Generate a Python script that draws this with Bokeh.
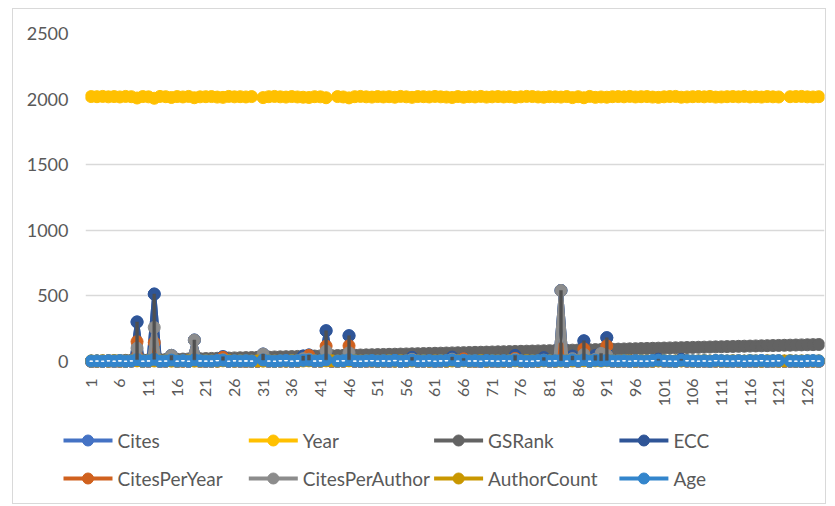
import numpy as np
from bokeh.plotting import figure
from bokeh.layouts import column, row
from bokeh.models import Range1d, FixedTicker, ColumnDataSource
from bokeh.core.properties import value
from bokeh.embed import file_html
from bokeh.resources import INLINE

# ---------------- data ----------------
CATEGORIES = list(range(1, 129))
X_TICKS = [1, 6, 11, 16, 21, 26, 31, 36, 41, 46, 51, 56, 61, 66, 71, 76, 81, 86,
           91, 96, 101, 106, 111, 116, 121, 126]
Y_TICKS = [0, 500, 1000, 1500, 2000, 2500]

SERIES_NAMES = ["Cites", "Year", "GSRank", "ECC",
                "CitesPerYear", "CitesPerAuthor", "AuthorCount", "Age"]
SERIES_COLORS = ["#4472C4", "#FFC000", "#636363", "#2F5597",
                 "#D0611E", "#8C8C8C", "#C99700", "#3385CC"]

CITES = [
    0, 1, 0, 2, 0, 1, 0, 2, 300, 0,
    1, 513, 0, 1, 45, 0, 2, 0, 162, 1,
    0, 1, 3, 35, 0, 2, 1, 0, 1, 0,
    55, 1, 0, 2, 3, 0, 1, 40, 48, 1,
    2, 233, 0, 1, 2, 195, 0, 0, 1, 2,
    0, 1, 0, 3, 0, 1, 30, 0, 1, 2,
    0, 1, 2, 32, 0, 22, 1, 0, 0, 2,
    1, 0, 2, 1, 45, 1, 0, 0, 2, 28,
    1, 2, 540, 0, 40, 1, 156, 0, 45, 60,
    180, 1, 0, 2, 0, 1, 0, 1, 2, 16,
    1, 0, 0, 15, 2, 1, 0, 1, 0, 2,
    1, 0, 1, 2, 0, 1, 0, 2, 0, 1,
    2, 0, 1, 0, 0, 1, 2, 0]

YEAR = [
    2019, 2018, 2020, 2017, 2019, 2016, 2020, 2018, 2008, 2019,
    2017, 2006, 2020, 2018, 2012, 2019, 2016, 2020, 2010, 2017,
    2018, 2019, 2015, 2013, 2020, 2017, 2018, 2016, 2019, None,
    2011, 2018, 2020, 2017, 2015, 2019, 2016, 2014, 2012, 2018,
    2017, 2010, None, 2019, 2016, 2009, 2018, 2020, 2017, 2015,
    2019, 2016, 2018, 2014, 2020, 2017, 2013, 2019, 2018, 2016,
    2020, 2017, 2015, 2012, 2019, 2014, 2018, 2016, 2020, 2015,
    2017, 2019, 2016, 2018, 2013, 2017, 2020, 2019, 2016, 2014,
    2018, 2017, 2015, 2019, 2011, 2018, 2010, 2020, 2013, 2016,
    2014, 2018, 2019, 2017, 2020, 2016, 2018, 2019, 2015, 2013,
    2017, 2019, 2020, 2014, 2016, 2018, 2019, 2017, 2020, 2015,
    2016, 2018, 2019, 2017, 2020, 2016, 2018, 2015, 2019, 2017,
    2016, None, 2018, 2019, 2020, 2017, 2016, 2018]

GSRANK = [
    1, 2, 3, 4, 5, 6, 7, 8, 9, 10,
    11, 12, 13, 14, 15, 16, 17, 18, 19, 20,
    21, 22, 23, 24, 25, 26, 27, 28, 29, 30,
    31, 32, 33, 34, 35, 36, 37, 38, 39, 40,
    41, 42, 43, 44, 45, 46, 47, 48, 49, 50,
    51, 52, 53, 54, 55, 56, 57, 58, 59, 60,
    61, 62, 63, 64, 65, 66, 67, 68, 69, 70,
    71, 72, 73, 74, 75, 76, 77, 78, 79, 80,
    81, 82, 83, 84, 85, 86, 87, 88, 89, 90,
    91, 92, 93, 94, 95, 96, 97, 98, 99, 100,
    101, 102, 103, 104, 105, 106, 107, 108, 109, 110,
    111, 112, 113, 114, 115, 116, 117, 118, 119, 120,
    121, 122, 123, 124, 125, 126, 127, 128]

ECC = [
    0, 1, 0, 2, 0, 1, 0, 2, 300, 0,
    1, 513, 0, 1, 45, 0, 2, 0, 162, 1,
    0, 1, 3, 35, 0, 2, 1, 0, 1, 0,
    55, 1, 0, 2, 3, 0, 1, 40, 48, 1,
    2, 233, 0, 1, 2, 195, 0, 0, 1, 2,
    0, 1, 0, 3, 0, 1, 30, 0, 1, 2,
    0, 1, 2, 32, 0, 22, 1, 0, 0, 2,
    1, 0, 2, 1, 45, 1, 0, 0, 2, 28,
    1, 2, 540, 0, 40, 1, 156, 0, 45, 60,
    180, 1, 0, 2, 0, 1, 0, 1, 2, 16,
    1, 0, 0, 15, 2, 1, 0, 1, 0, 2,
    1, 0, 1, 2, 0, 1, 0, 2, 0, 1,
    2, 0, 1, 0, 0, 1, 2, 0]

CITES_PER_YEAR = [
    0, 0, 0, 1, 0, 0, 0, 1, 150, 0,
    0, 143, 0, 0, 10, 0, 0, 0, 25, 0,
    0, 0, 1, 30, 0, 1, 0, 0, 0, 0,
    8, 0, 0, 1, 1, 0, 0, 12, 45, 0,
    1, 116, 0, 0, 0, 118, 0, 0, 0, 0,
    0, 0, 0, 1, 0, 0, 6, 0, 0, 0,
    0, 0, 0, 8, 0, 20, 0, 0, 0, 0,
    0, 0, 0, 0, 22, 0, 0, 0, 0, 6,
    0, 0, 95, 0, 8, 0, 95, 0, 9, 18,
    118, 0, 0, 0, 0, 0, 0, 0, 0, 3,
    0, 0, 0, 3, 0, 0, 0, 0, 0, 0,
    0, 0, 0, 0, 0, 0, 0, 0, 0, 0,
    0, 0, 0, 0, 0, 0, 0, 0]

CITES_PER_AUTHOR = [
    0, 1, 0, 1, 0, 0, 0, 1, 100, 0,
    0, 258, 0, 0, 45, 0, 1, 0, 162, 0,
    0, 0, 1, 12, 0, 1, 0, 0, 0, 0,
    55, 0, 0, 1, 1, 0, 0, 20, 16, 0,
    1, 78, 0, 0, 1, 65, 0, 0, 0, 1,
    0, 0, 0, 1, 0, 0, 15, 0, 0, 1,
    0, 0, 1, 16, 0, 7, 0, 0, 0, 1,
    0, 0, 1, 0, 15, 0, 0, 0, 1, 9,
    0, 1, 540, 0, 20, 0, 52, 0, 15, 60,
    45, 0, 0, 1, 0, 0, 0, 0, 1, 5,
    0, 0, 0, 5, 1, 0, 0, 0, 0, 1,
    0, 0, 0, 1, 0, 0, 0, 1, 0, 0,
    1, 0, 0, 0, 0, 0, 1, 0]

AUTHOR_COUNT = [
    3, 2, 4, 2, 5, 3, 2, 4, 3, 2,
    5, 2, 3, 4, 1, 2, 3, 5, 1, 2,
    4, 3, 2, 3, 5, 2, 4, 3, 2, 3,
    1, 4, 2, 3, 2, 5, 3, 2, 3, 4,
    2, 3, 4, 2, 3, 3, 5, 2, 4, 3,
    2, 3, 5, 2, 4, 3, 2, 3, 4, 2,
    3, 5, 2, 2, 4, 3, 2, 3, 5, 2,
    4, 3, 2, 4, 3, 2, 5, 3, 2, 3,
    4, 2, 1, 3, 2, 4, 3, 2, 3, 1,
    4, 3, 2, 5, 3, 2, 4, 3, 2, 3,
    5, 2, 3, 3, 4, 2, 3, 5, 2, 4,
    3, 2, 4, 3, 2, 5, 3, 2, 4, 3,
    2, 3, 5, 2, 3, 4, 2, 3]

AGE = [
    2, 3, 1, 4, 2, 5, 1, 3, 13, 2,
    4, 15, 1, 3, 9, 2, 5, 1, 11, 4,
    3, 2, 6, 8, 1, 4, 3, 5, 2, None,
    10, 3, 1, 4, 6, 2, 5, 7, 9, 3,
    4, 11, None, 2, 5, 12, 3, 1, 4, 6,
    2, 5, 3, 7, 1, 4, 8, 2, 3, 5,
    1, 4, 6, 9, 2, 7, 3, 5, 1, 6,
    4, 2, 5, 3, 8, 4, 1, 2, 5, 7,
    3, 4, 6, 2, 10, 3, 11, 1, 8, 5,
    7, 3, 2, 4, 1, 5, 3, 2, 6, 8,
    4, 2, 1, 7, 5, 3, 2, 4, 1, 6,
    5, 3, 2, 4, 1, 5, 3, 6, 2, 4,
    5, None, 3, 2, 1, 4, 5, 3]

SERIES_VALUES = [CITES, YEAR, GSRANK, ECC, CITES_PER_YEAR,
                 CITES_PER_AUTHOR, AUTHOR_COUNT, AGE]

TEXT_COLOR = "#595959"
FONT = "Lato"

# ---------------- layout constants ----------------
W = 812
BORDER_L, BORDER_R, BORDER_T, BORDER_B = 72, 1, 24, 45
FRAME_H = 335
H_MAIN = BORDER_T + FRAME_H + BORDER_B
H_LEG = 90

p = figure(width=W, height=H_MAIN,
           x_range=Range1d(0, 129), y_range=Range1d(-55, 2500),
           output_backend="svg", toolbar_location=None,
           min_border_left=BORDER_L, min_border_right=BORDER_R,
           min_border_top=BORDER_T, min_border_bottom=BORDER_B)
p.outline_line_color = None
p.background_fill_color = "white"
p.border_fill_color = "white"

p.xgrid.visible = False
p.ygrid.grid_line_color = "#D9D9D9"
p.ygrid.grid_line_width = 1.3

p.yaxis.ticker = FixedTicker(ticks=Y_TICKS)
p.xaxis.ticker = FixedTicker(ticks=X_TICKS)
for ax in (p.xaxis[0], p.yaxis[0]):
    ax.axis_line_color = None
    ax.major_tick_line_color = None
    ax.minor_tick_line_color = None
    ax.major_tick_out = 0
    ax.major_tick_in = 0
    ax.major_label_text_color = TEXT_COLOR
    ax.major_label_text_font = FONT
p.yaxis.major_label_text_font_size = "18px"
p.yaxis.major_label_standoff = 17
p.xaxis.major_label_text_font_size = "16px"
p.xaxis.major_label_standoff = 10
p.xaxis.major_label_orientation = np.pi / 2

x = np.array(CATEGORIES, dtype=float)
for name, vals, col in zip(SERIES_NAMES, SERIES_VALUES, SERIES_COLORS):
    y = np.array([np.nan if v is None else v for v in vals], dtype=float)
    src = ColumnDataSource(dict(x=x, y=y))
    p.line("x", "y", source=src, line_color=col, line_width=4)
    p.scatter("x", "y", source=src, size=12, fill_color=col, line_color=col,
              line_width=1)

# up/down bars between first (Cites) and last (Age) series
cites_a = np.array(CITES, dtype=float)
age_a = np.array([np.nan if v is None else v for v in AGE], dtype=float)
ok = ~np.isnan(age_a)
down = ok & (cites_a > age_a)
up = ok & (age_a > cites_a)
p.vbar(x=x[down], width=0.5, bottom=age_a[down], top=cites_a[down],
       fill_color="#505050", line_color="#505050", line_width=0.5)
p.vbar(x=x[up], width=0.5, bottom=cites_a[up], top=age_a[up],
       fill_color="white", line_color="white", line_width=1)

# ---------------- legend (own figure, pixel coordinates) ----------------
leg = figure(width=W, height=H_LEG, x_range=Range1d(0, W), y_range=Range1d(H_LEG, 0),
             output_backend="svg", toolbar_location=None, min_border=0,
             x_axis_location=None, y_axis_location=None)
leg.grid.visible = False
leg.outline_line_color = None
leg.background_fill_color = "white"
leg.border_fill_color = "white"

LX0, LY0, COL_PITCH, ROW_PITCH = 50.0, 27.0, 185.3, 38.0
for i, (name, col) in enumerate(zip(SERIES_NAMES, SERIES_COLORS)):
    r, c = divmod(i, 4)
    xs = LX0 + c * COL_PITCH
    ys = LY0 + r * ROW_PITCH
    leg.segment(x0=[xs], y0=[ys], x1=[xs + 49], y1=[ys], line_color=col, line_width=4)
    leg.scatter(x=[xs + 24.5], y=[ys], size=11, fill_color=col, line_color=col)
    leg.text(x=[xs + 54], y=[ys], text=[name], text_font=value(FONT),
             text_font_size="19px", text_color=TEXT_COLOR,
             text_baseline="middle", text_align="left")

layout = column(p, row(leg), margin=(8, 0, 0, 12),
                styles={"border": "1px solid #D9D9D9"})

open("out.html", "w").write(file_html(layout, INLINE))
